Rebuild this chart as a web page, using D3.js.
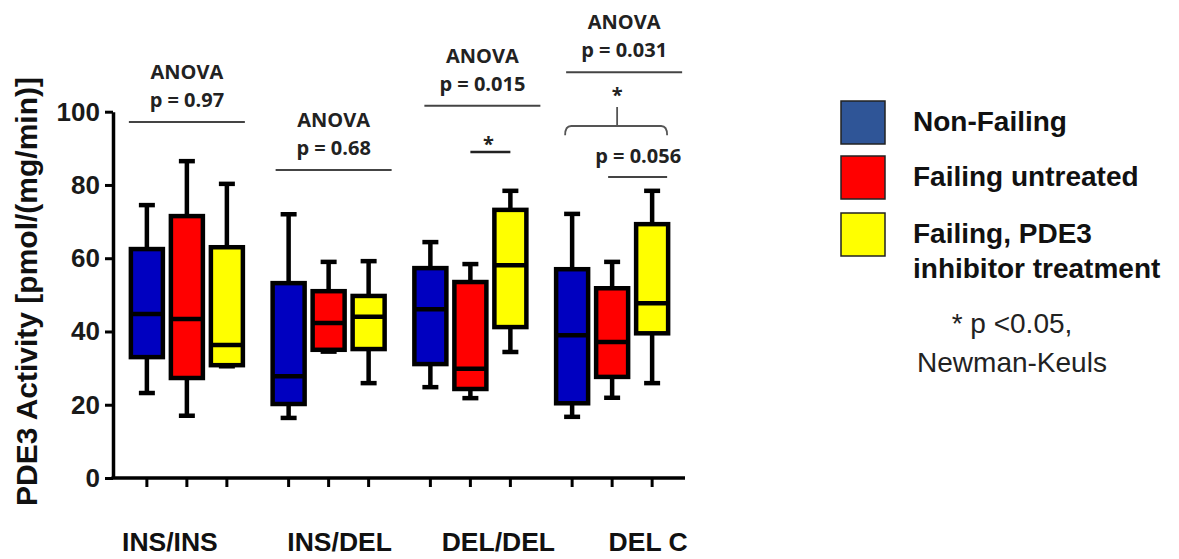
<!DOCTYPE html>
<html><head><meta charset="utf-8">
<script src="https://cdn.jsdelivr.net/npm/d3@7"></script>
<style>
html,body{margin:0;padding:0;background:#fff;}
svg{display:block;}
</style></head>
<body>
<svg id="chart" width="1179" height="559"></svg>
<script>
// ---- data ----
const groups = ["INS/INS", "INS/DEL", "DEL/DEL", "DEL C"];
const seriesNames = ["Non-Failing", "Failing untreated", "Failing, PDE3 inhibitor treatment"];
const yTicks = [0, 20, 40, 60, 80, 100];

const nonFailingMin = [23.2, 16.4, 24.8, 16.7];
const nonFailingQ1  = [33.0, 20.2, 31.1, 20.4];
const nonFailingMed = [44.8, 27.8, 46.1, 39.0];
const nonFailingQ3  = [62.5, 53.2, 57.3, 57.0];
const nonFailingMax = [74.5, 72.0, 64.4, 72.1];

const failingMin = [17.0, 34.5, 21.8, 21.9];
const failingQ1  = [27.3, 35.0, 24.3, 27.6];
const failingMed = [43.4, 42.3, 29.8, 37.1];
const failingQ3  = [71.5, 51.0, 53.5, 51.8];
const failingMax = [86.5, 59.0, 58.4, 59.0];

const treatedMin = [30.5, 25.9, 34.4, 25.9];
const treatedQ1  = [30.8, 35.2, 41.2, 39.5];
const treatedMed = [36.3, 44.0, 58.1, 47.7];
const treatedQ3  = [63.0, 49.7, 73.2, 69.3];
const treatedMax = [80.3, 59.2, 78.4, 78.4];

const anovaP = ["p = 0.97", "p = 0.68", "p = 0.015", "p = 0.031"];

// ---- build ----
const seriesStats = [
  [nonFailingMin, nonFailingQ1, nonFailingMed, nonFailingQ3, nonFailingMax],
  [failingMin, failingQ1, failingMed, failingQ3, failingMax],
  [treatedMin, treatedQ1, treatedMed, treatedQ3, treatedMax]
];
const boxes = [];
groups.forEach((g, gi) => {
  seriesNames.forEach((s, si) => {
    const st = seriesStats[si];
    boxes.push({group: g, series: s, min: st[0][gi], q1: st[1][gi], med: st[2][gi], q3: st[3][gi], max: st[4][gi]});
  });
});

const boxFill = ["#0000c0", "#ff0000", "#ffff00"];
const legendFill = ["#2f5597", "#ff0000", "#ffff00"];
const arial = "'Liberation Sans', Arial, sans-serif";

const svg = d3.select("#chart");
svg.append("rect").attr("width", 1179).attr("height", 559).attr("fill", "#fff");

const y = d3.scaleLinear().domain([0, 100]).range([478, 111.7]);
const xg = d3.scaleBand().domain(groups).range([116, 683]);
const xs = d3.scaleBand().domain(seriesNames).range([-60, 60]);
const gc = g => xg(g) + xg.bandwidth() / 2;
const cx = d => gc(d.group) + xs(d.series) + xs.bandwidth() / 2;

// y axis
const yAxis = svg.append("g").attr("transform", "translate(113,0)")
  .call(d3.axisLeft(y).tickValues(yTicks).tickSize(8).tickSizeOuter(0).tickPadding(5));
yAxis.select(".domain").attr("stroke", "#000").attr("stroke-width", 3.5);
yAxis.selectAll(".tick line").attr("stroke", "#000").attr("stroke-width", 3);
yAxis.selectAll(".tick text").attr("fill", "#1a1a1a")
  .style("font-family", arial).style("font-weight", "bold").style("font-size", "26px");

// x axis line + ticks
svg.append("line").attr("x1", 111.5).attr("x2", 685).attr("y1", y(0)).attr("y2", y(0))
  .attr("stroke", "#000").attr("stroke-width", 3.5);
svg.selectAll(".xtick").data(boxes).join("line").attr("class", "xtick")
  .attr("x1", cx).attr("x2", cx).attr("y1", y(0)).attr("y2", y(0) + 9)
  .attr("stroke", "#000").attr("stroke-width", 3);

// category labels
const catShift = [-17, 11, 28, 36];
svg.selectAll(".cat").data(groups).join("text").attr("class", "cat")
  .attr("x", (d, i) => gc(d) + catShift[i]).attr("y", 551)
  .attr("text-anchor", "middle")
  .attr("fill", "#111")
  .style("font-family", arial).style("font-weight", "bold").style("font-size", "26.5px")
  .text(d => d);

// y title
svg.append("text")
  .attr("transform", "translate(37,291.5) rotate(-90)")
  .attr("text-anchor", "middle")
  .attr("fill", "#111")
  .style("font-family", arial).style("font-weight", "bold").style("font-size", "30px")
  .text("PDE3 Activity [pmol/(mg/min)]");

// boxes
const bw = 32, cap = 16;
const b = svg.append("g").selectAll(".box").data(boxes).join("g").attr("class", "box");
b.append("line").attr("x1", cx).attr("x2", cx).attr("y1", d => y(d.min)).attr("y2", d => y(d.max))
  .attr("stroke", "#000").attr("stroke-width", 4.5);
b.append("line").attr("x1", d => cx(d) - cap / 2).attr("x2", d => cx(d) + cap / 2)
  .attr("y1", d => y(d.max)).attr("y2", d => y(d.max)).attr("stroke", "#000").attr("stroke-width", 4.5);
b.append("line").attr("x1", d => cx(d) - cap / 2).attr("x2", d => cx(d) + cap / 2)
  .attr("y1", d => y(d.min)).attr("y2", d => y(d.min)).attr("stroke", "#000").attr("stroke-width", 4.5);
b.append("rect").attr("x", d => cx(d) - bw / 2).attr("width", bw)
  .attr("y", d => y(d.q3)).attr("height", d => y(d.q1) - y(d.q3))
  .attr("fill", d => boxFill[seriesNames.indexOf(d.series)])
  .attr("stroke", "#000").attr("stroke-width", 4.5);
b.append("line").attr("x1", d => cx(d) - bw / 2).attr("x2", d => cx(d) + bw / 2)
  .attr("y1", d => y(d.med)).attr("y2", d => y(d.med)).attr("stroke", "#000").attr("stroke-width", 4.5);

// annotations
const annoFont = "'Open Sans', 'DejaVu Sans', sans-serif";
const annoLevel = [97.2, 84.1, 101.6, 110.8];   // y-level of ANOVA line (axis units)
const annoShift = [0, 5, 12, 12];
const annoHalf = 58;
const ag = svg.append("g");
const annoText = (x, yy, t) => ag.append("text").attr("x", x).attr("y", yy).attr("text-anchor", "middle")
  .attr("fill", "#222").style("font-family", annoFont).style("font-weight", "bold").style("font-size", "20px")
  .text(t);
groups.forEach((g, gi) => {
  const c = gc(g) + annoShift[gi];
  const ly = y(annoLevel[gi]);
  ag.append("line").attr("x1", c - annoHalf).attr("x2", c + annoHalf).attr("y1", ly).attr("y2", ly)
    .attr("stroke", "#444").attr("stroke-width", 2);
  annoText(c, ly - 43, "ANOVA");
  annoText(c, ly - 15, anovaP[gi]);
});
// DEL/DEL star comparison (failing vs treated)
{
  const d1 = boxes[7], d2 = boxes[8];
  const ly = y(89);
  ag.append("line").attr("x1", cx(d1)).attr("x2", cx(d2)).attr("y1", ly).attr("y2", ly)
    .attr("stroke", "#222").attr("stroke-width", 2.5);
  annoText((cx(d1) + cx(d2)) / 2 - 2, ly - 1, "*");
}
// DEL C bracket + p = 0.056
{
  const d0 = boxes[9], d1 = boxes[10], d2 = boxes[11];
  const by = y(96.1), bEnd = y(93.6), tTop = y(101.3);
  const xl = cx(d0) - 7, xr = cx(d2) + 15, xm = (xl + xr) / 2 + 1;
  ag.append("path")
    .attr("d", `M${xl},${bEnd} Q${xl},${by} ${xl + 6},${by} L${xr - 6},${by} Q${xr},${by} ${xr},${bEnd} M${xm},${by} L${xm},${tTop}`)
    .attr("fill", "none").attr("stroke", "#555").attr("stroke-width", 1.8);
  annoText(xm, tTop - 5, "*");
  const ly = y(82.2);
  ag.append("line").attr("x1", cx(d1) - 4).attr("x2", cx(d2) + 15).attr("y1", ly).attr("y2", ly)
    .attr("stroke", "#444").attr("stroke-width", 2);
  annoText((cx(d1) + cx(d2)) / 2 + 6, ly - 14, "p = 0.056");
}

// legend
const legendLines = [["Non-Failing"], ["Failing untreated"], ["Failing, PDE3", "inhibitor treatment"]];
const legY = [101, 156, 213];
const lg = svg.append("g");
seriesNames.forEach((s, i) => {
  lg.append("rect").attr("x", 841).attr("y", legY[i]).attr("width", 44).attr("height", 43)
    .attr("fill", legendFill[i]).attr("stroke", "#222").attr("stroke-width", 1.5);
  legendLines[i].forEach((t, j) => {
    lg.append("text").attr("x", 913).attr("y", legY[i] + 30 + j * 35)
      .attr("fill", "#111")
      .style("font-family", arial).style("font-weight", "bold").style("font-size", "28px")
      .text(t);
  });
});
["* p <0.05,", "Newman-Keuls"].forEach((t, j) => {
  lg.append("text").attr("x", 1012).attr("y", 333 + j * 39).attr("text-anchor", "middle")
    .attr("fill", "#222")
    .style("font-family", arial).style("font-size", "28px")
    .text(t);
});
</script>
</body></html>
